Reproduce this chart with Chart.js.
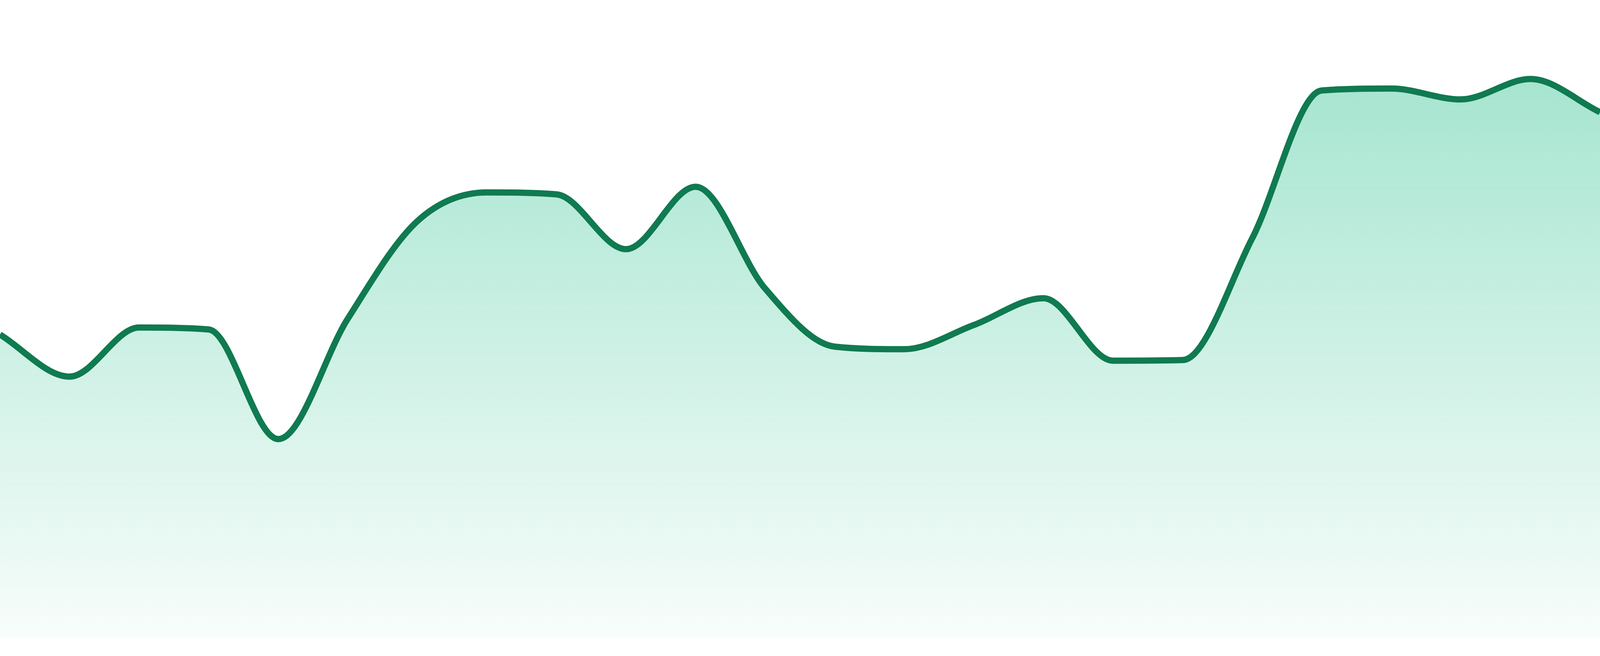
<!DOCTYPE html>
<html lang="en">
<head>
    <meta charset="UTF-8">
    <title>Sparkline</title>
    <script src="https://cdn.jsdelivr.net/npm/chart.js"></script>
    <style>
        html, body { margin: 0; padding: 0; background: #ffffff; }
        .wrap { position: relative; width: 100vw; height: 100vh; }
    </style>
</head>
<body>
    <div class="wrap">
        <canvas id="trendChart"></canvas>
    </div>

    <script>
        // hourly points
        const hours = ['00:00', '01:00', '02:00', '03:00', '04:00', '05:00', '06:00', '07:00',
                       '08:00', '09:00', '10:00', '11:00', '12:00', '13:00', '14:00', '15:00',
                       '16:00', '17:00', '18:00', '19:00', '20:00', '21:00', '22:00', '23:00'];
        const values = [47.5, 40.9, 48.6, 48.3, 31.1, 50.0, 65.3, 69.8,
                        69.5, 60.9, 70.7, 54.7, 45.6, 45.2, 49.0, 53.2,
                        43.4, 43.5, 62.6, 85.8, 86.1, 84.4, 87.6, 82.4];
        const yMin = 0;
        const yMax = 100;

        const lineColor = '#107a50';

        function areaFill(context) {
            const chart = context.chart;
            const area = chart.chartArea;
            if (!area) return 'rgba(16, 185, 129, 0.2)';
            const g = chart.ctx.createLinearGradient(0, area.top, 0, area.bottom);
            g.addColorStop(0, 'rgba(16, 185, 129, 0.42)');
            g.addColorStop(1, 'rgba(16, 185, 129, 0.03)');
            return g;
        }

        new Chart(document.getElementById('trendChart'), {
            type: 'line',
            data: {
                labels: hours,
                datasets: [{
                    data: values,
                    borderColor: lineColor,
                    borderWidth: 16,
                    backgroundColor: areaFill,
                    fill: 'start',
                    cubicInterpolationMode: 'monotone',
                    pointRadius: 0,
                    pointHoverRadius: 0
                }]
            },
            options: {
                responsive: true,
                maintainAspectRatio: false,
                animation: false,
                layout: { padding: { top: 0, right: 0, bottom: 48, left: 0 } },
                plugins: { legend: { display: false }, tooltip: { enabled: false } },
                scales: {
                    x: { display: false },
                    y: { display: false, min: yMin, max: yMax }
                }
            }
        });
    </script>
</body>
</html>
